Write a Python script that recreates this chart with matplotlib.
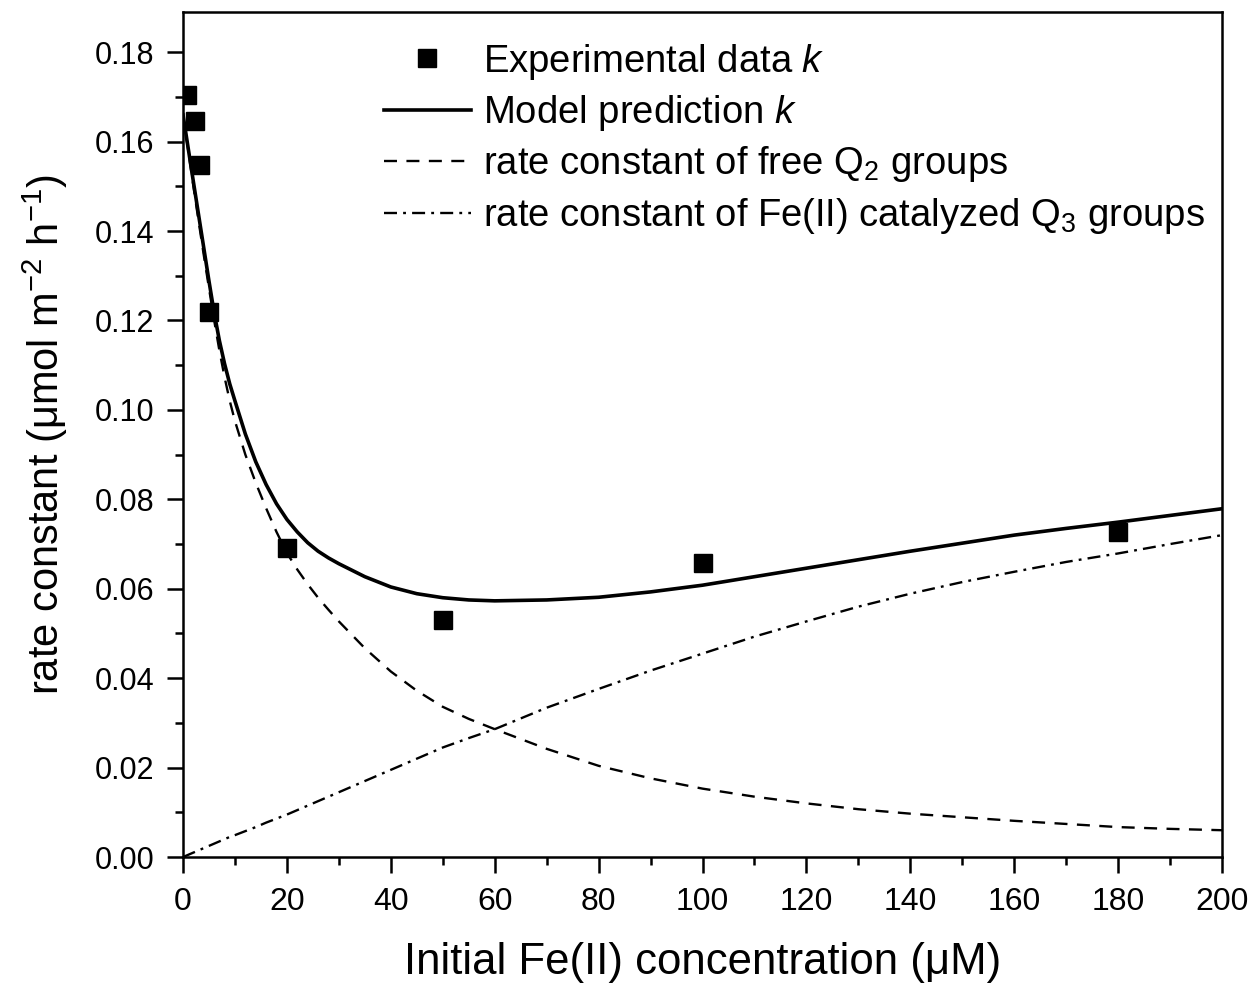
import numpy as np
import matplotlib
matplotlib.use('Agg')
import matplotlib.pyplot as plt
from matplotlib.ticker import MultipleLocator

plt.rcParams['font.family'] = ['Liberation Sans', 'DejaVu Sans']
plt.rcParams['mathtext.fontset'] = 'custom'
plt.rcParams['mathtext.rm'] = 'Liberation Sans'
plt.rcParams['mathtext.it'] = 'Liberation Sans:italic'

# experimental points
exp_x = [0.8, 2.3, 3.2, 5, 20, 50, 100, 180]
exp_k = [0.1705, 0.1647, 0.1548, 0.1219, 0.0691, 0.0531, 0.0658, 0.0728]

# curves
curve_x = [0, 1, 2, 3, 4, 5, 6, 7, 8, 9, 10, 12, 14, 16, 18, 20, 22, 24, 26, 28, 30,
           35, 40, 45, 50, 55, 60, 70, 80, 90, 100, 110, 120, 130, 140, 150, 160, 170,
           180, 190, 200]
model_k = [0.166, 0.1585, 0.151, 0.1436, 0.1362, 0.1288, 0.1217, 0.1155, 0.1103, 0.1058,
           0.1020, 0.0946, 0.0884, 0.0833, 0.0790, 0.0755, 0.0727, 0.0703, 0.0684, 0.0669,
           0.0656, 0.0627, 0.0604, 0.0589, 0.0580, 0.0575, 0.0573, 0.0575, 0.0581, 0.0593,
           0.0608, 0.0627, 0.0646, 0.0665, 0.0684, 0.0702, 0.0720, 0.0735, 0.0749, 0.0764,
           0.0779]
free_q2 = [0.166, 0.158, 0.150, 0.1422, 0.1346, 0.1272, 0.1200, 0.1133, 0.1073, 0.1020,
           0.0975, 0.0900, 0.0837, 0.0780, 0.0727, 0.0680, 0.0643, 0.0610, 0.0580, 0.0553,
           0.0527, 0.0467, 0.0415, 0.0372, 0.0336, 0.0309, 0.0286, 0.0242, 0.0204, 0.0176,
           0.0153, 0.0135, 0.0120, 0.0107, 0.0097, 0.0089, 0.0081, 0.0074, 0.0067, 0.0063,
           0.0060]
fe_q3 = [0.0, 0.0005, 0.001, 0.0015, 0.002, 0.0025, 0.003, 0.0035, 0.004, 0.0045,
         0.0049, 0.0058, 0.0067, 0.0077, 0.0086, 0.0095, 0.0105, 0.0115, 0.0125, 0.0135,
         0.0145, 0.0170, 0.0195, 0.0220, 0.0245, 0.0266, 0.0286, 0.0334, 0.0376, 0.0417,
         0.0455, 0.0493, 0.0527, 0.0560, 0.0589, 0.0615, 0.0638, 0.0660, 0.0679, 0.0700,
         0.0720]

fig = plt.figure(figsize=(12.57, 9.9), dpi=100)
ax = fig.add_axes([0.1456, 0.1343, 0.8266, 0.8536])

ax.plot(exp_x, exp_k, 's', color='black', markersize=13, label='Experimental data $k$', zorder=5)
ax.plot(curve_x, model_k, '-', color='black', linewidth=2.6, label='Model prediction $k$')
ax.plot(curve_x, free_q2, color='black', linewidth=1.7, dashes=(5.5, 4.0),
        label='rate constant of free Q$_2$ groups')
ax.plot(curve_x, fe_q3, color='black', linewidth=1.7, dashes=(5.5, 2.6, 1.2, 2.6),
        label='rate constant of Fe(II) catalyzed Q$_3$ groups')

ax.set_xlim(0, 200)
ax.set_ylim(0, 0.189)
ax.xaxis.set_major_locator(MultipleLocator(20))
ax.xaxis.set_minor_locator(MultipleLocator(10))
ax.yaxis.set_major_locator(MultipleLocator(0.02))
ax.yaxis.set_minor_locator(MultipleLocator(0.01))
ax.yaxis.set_major_formatter(plt.FormatStrFormatter('%.2f'))
ax.tick_params(which='both', direction='out', width=1.8, top=False, right=False)
ax.tick_params(which='major', length=11.5)
ax.tick_params(which='minor', length=6)
ax.tick_params(axis='y', which='major', labelsize=22, pad=9)
ax.tick_params(axis='x', which='major', labelsize=23, pad=10)
for s in ax.spines.values():
    s.set_linewidth(1.8)

ax.set_xlabel('Initial Fe(II) concentration (μM)', fontsize=31.5, labelpad=18)
ax.set_ylabel('rate constant (μmol m$^{-2}$ h$^{-1}$)', fontsize=30, labelpad=18)

ax.legend(loc='upper left', bbox_to_anchor=(0.193, 0.965), frameon=False, fontsize=27.5,
          handlelength=2.3, handletextpad=0.3, labelspacing=0.3, borderaxespad=0,
          borderpad=0)

fig.savefig('out.png', dpi=100)
